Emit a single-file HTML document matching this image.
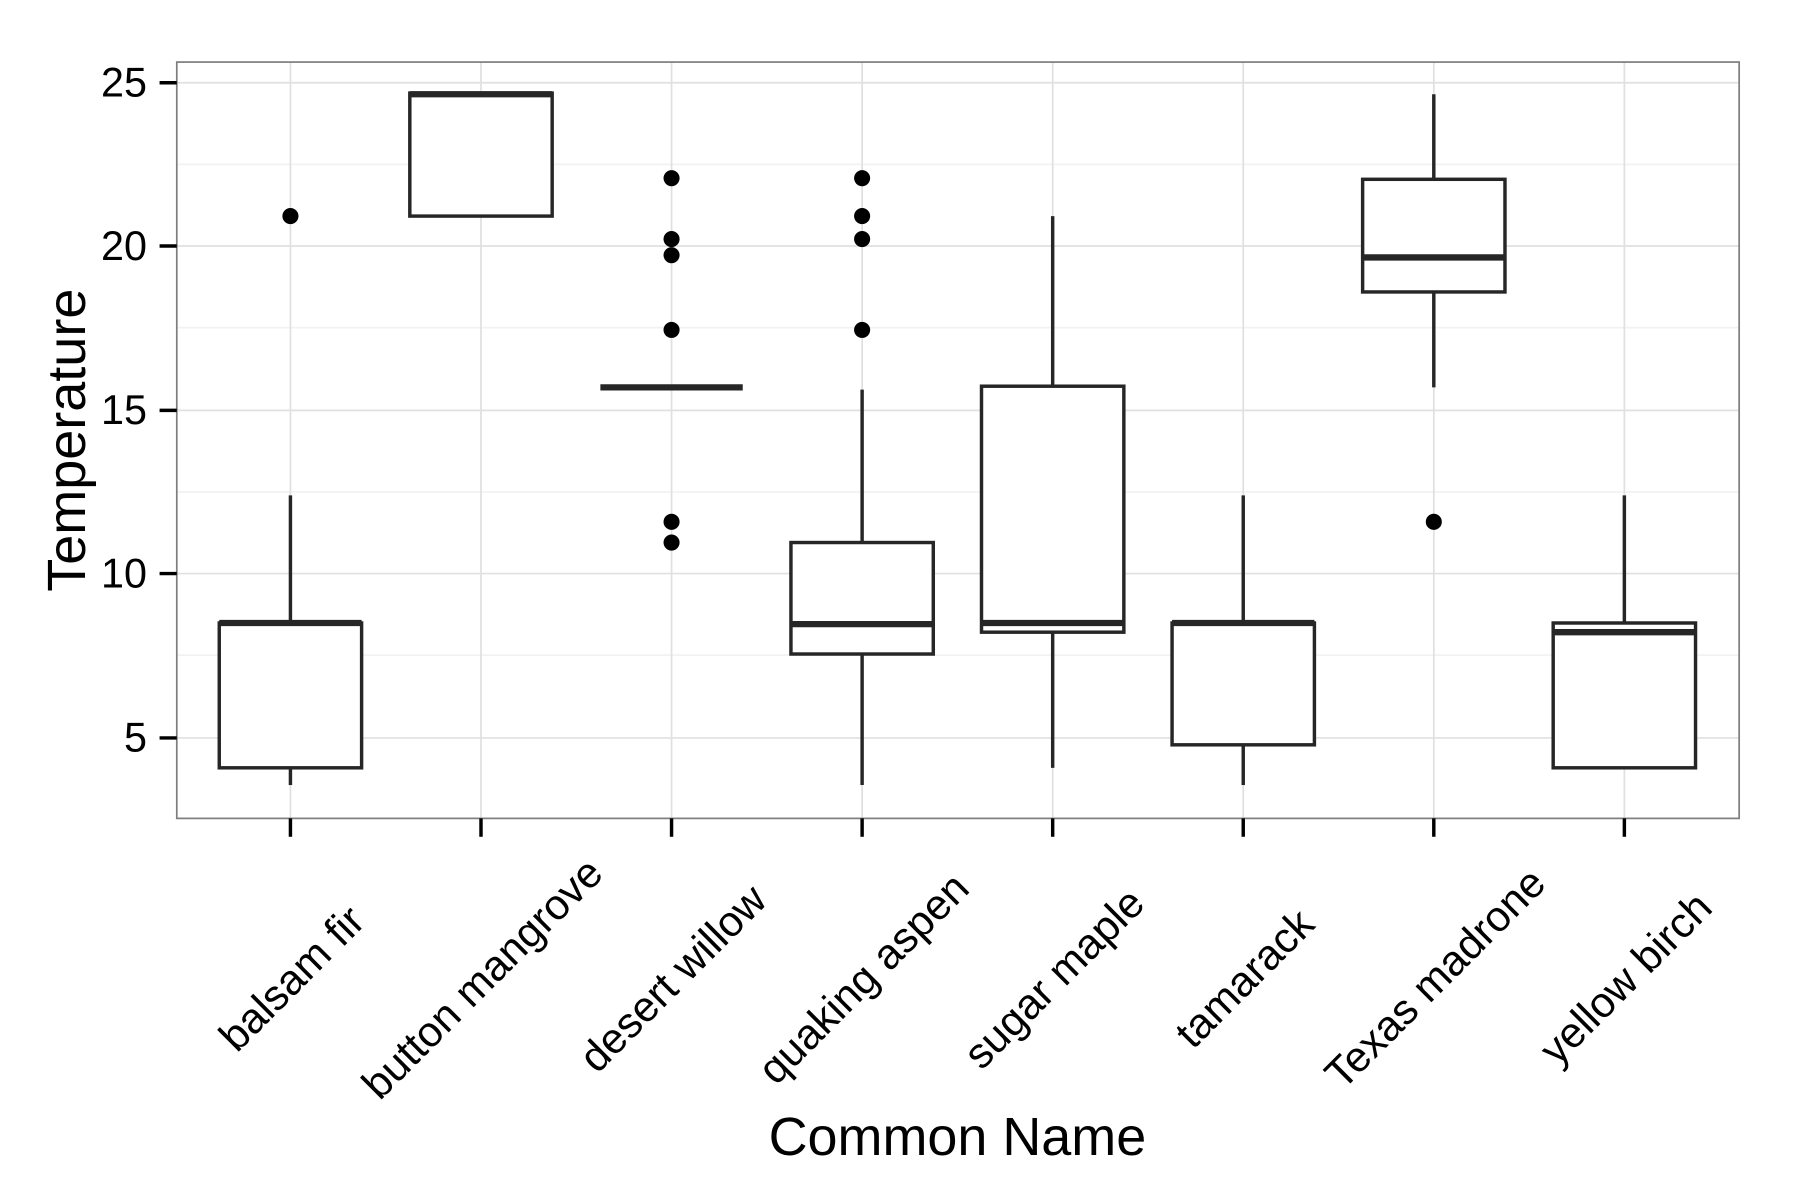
<!DOCTYPE html>
<html><head><style>html,body{margin:0;padding:0;background:#fff}svg{display:block}</style></head>
<body>
<svg width="1800" height="1200" viewBox="0 0 1568 1044" preserveAspectRatio="none" xmlns="http://www.w3.org/2000/svg" font-family="Liberation Sans, Arial, sans-serif">
<rect width="1568" height="1044" fill="#fff"/>
<g stroke="#f2f2f2" stroke-width="1.5">
<line x1="154" x2="1515" y1="143" y2="143"/><line x1="154" x2="1515" y1="285" y2="285"/><line x1="154" x2="1515" y1="428" y2="428"/><line x1="154" x2="1515" y1="570" y2="570"/>
</g>
<g stroke="#e0e0e0" stroke-width="1.5">
<line x1="154" x2="1515" y1="72" y2="72"/><line x1="154" x2="1515" y1="214" y2="214"/><line x1="154" x2="1515" y1="357" y2="357"/><line x1="154" x2="1515" y1="499" y2="499"/><line x1="154" x2="1515" y1="642" y2="642"/>
<line y1="54" y2="712" x1="253" x2="253"/><line y1="54" y2="712" x1="419" x2="419"/><line y1="54" y2="712" x1="585" x2="585"/><line y1="54" y2="712" x1="751" x2="751"/><line y1="54" y2="712" x1="917" x2="917"/><line y1="54" y2="712" x1="1083" x2="1083"/><line y1="54" y2="712" x1="1249" x2="1249"/><line y1="54" y2="712" x1="1415" x2="1415"/>
</g>
<g stroke="#262626" stroke-width="3" fill="#fff">
<line x1="253" x2="253" y1="431" y2="542"/><line x1="253" x2="253" y1="668" y2="683"/>
<rect x="191" y="542" width="124" height="126"/>
<rect x="357" y="81" width="124" height="107"/>
<line x1="751" x2="751" y1="339" y2="472"/><line x1="751" x2="751" y1="569" y2="683"/>
<rect x="689" y="472" width="124" height="97"/>
<line x1="917" x2="917" y1="188" y2="336"/><line x1="917" x2="917" y1="550" y2="668"/>
<rect x="855" y="336" width="124" height="214"/>
<line x1="1083" x2="1083" y1="431" y2="542"/><line x1="1083" x2="1083" y1="648" y2="683"/>
<rect x="1021" y="542" width="124" height="106"/>
<line x1="1249" x2="1249" y1="82" y2="156"/><line x1="1249" x2="1249" y1="254" y2="337"/>
<rect x="1187" y="156" width="124" height="98"/>
<line x1="1415" x2="1415" y1="431" y2="542"/>
<rect x="1353" y="542" width="124" height="126"/>
</g>
<g stroke="#262626" stroke-width="5.5">
<line x1="191" x2="315" y1="542" y2="542"/>
<line x1="357" x2="481" y1="82" y2="82"/>
<line x1="523" x2="647" y1="337" y2="337"/>
<line x1="689" x2="813" y1="543" y2="543"/>
<line x1="855" x2="979" y1="542" y2="542"/>
<line x1="1021" x2="1145" y1="542" y2="542"/>
<line x1="1187" x2="1311" y1="224" y2="224"/>
<line x1="1353" x2="1477" y1="550" y2="550"/>
</g>
<g fill="#000">
<circle cx="253" cy="188" r="7"/>
<circle cx="585" cy="155" r="7"/><circle cx="585" cy="208" r="7"/><circle cx="585" cy="222" r="7"/><circle cx="585" cy="287" r="7"/><circle cx="585" cy="454" r="7"/><circle cx="585" cy="472" r="7"/>
<circle cx="751" cy="155" r="7"/><circle cx="751" cy="188" r="7"/><circle cx="751" cy="208" r="7"/><circle cx="751" cy="287" r="7"/>
<circle cx="1249" cy="454" r="7"/>
</g>
<rect x="154" y="54" width="1361" height="658" fill="none" stroke="#7f7f7f" stroke-width="1.5"/>
<g stroke="#000" stroke-width="3">
<line x1="139" x2="154" y1="72" y2="72"/><line x1="139" x2="154" y1="214" y2="214"/><line x1="139" x2="154" y1="357" y2="357"/><line x1="139" x2="154" y1="499" y2="499"/><line x1="139" x2="154" y1="642" y2="642"/>
<line y1="712" y2="728" x1="253" x2="253"/><line y1="712" y2="728" x1="419" x2="419"/><line y1="712" y2="728" x1="585" x2="585"/><line y1="712" y2="728" x1="751" x2="751"/><line y1="712" y2="728" x1="917" x2="917"/><line y1="712" y2="728" x1="1083" x2="1083"/><line y1="712" y2="728" x1="1249" x2="1249"/><line y1="712" y2="728" x1="1415" x2="1415"/>
</g>
<g font-size="36" text-anchor="end" fill="#000">
<text x="128" y="84">25</text><text x="128" y="226">20</text><text x="128" y="369">15</text><text x="128" y="511">10</text><text x="128" y="654">5</text>
</g>
<g font-size="37" text-anchor="middle" fill="#000">
<text transform="translate(263,860) rotate(-45)">balsam fir</text>
<text transform="translate(429,860) rotate(-45)">button mangrove</text>
<text transform="translate(595,860) rotate(-45)">desert willow</text>
<text transform="translate(761,860) rotate(-45)">quaking aspen</text>
<text transform="translate(927,860) rotate(-45)">sugar maple</text>
<text transform="translate(1093,860) rotate(-45)">tamarack</text>
<text transform="translate(1259,860) rotate(-45)">Texas madrone</text>
<text transform="translate(1425,860) rotate(-45)">yellow birch</text>
</g>
<text x="834" y="1005" font-size="47" text-anchor="middle">Common Name</text>
<text transform="translate(74,383) rotate(-90)" font-size="47" text-anchor="middle">Temperature</text>
</svg>
</body></html>
